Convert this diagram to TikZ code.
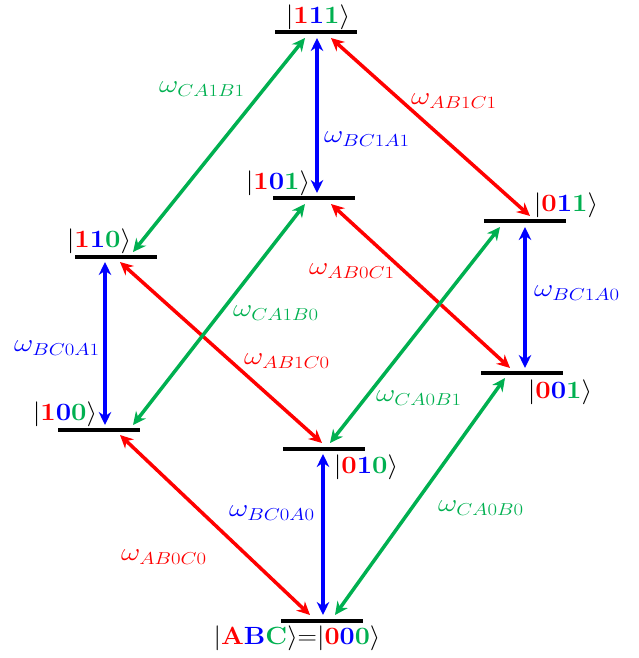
\documentclass[tikz,border=0pt]{standalone}
\usetikzlibrary{arrows.meta,calc}
\definecolor{cR}{HTML}{FF0000}
\definecolor{cB}{HTML}{0000FF}
\definecolor{cG}{HTML}{00B050}
\newcommand{\myket}[3]{\scalebox{1.1}[1]{$|\mathbf{\textcolor{cR}{#1}\textcolor{cB}{#2}\textcolor{cG}{#3}}\rangle$}}
\newcommand{\om}[1]{\scalebox{1.2}[1]{$\omega_{#1}$}}
\begin{document}
\begin{tikzpicture}[x=1pt,y=-1pt,
  lvl/.style={fill=black,inner sep=0pt,minimum width=82pt,minimum height=3.6pt},
  ketlab/.style={inner sep=0pt,font=\fontsize{23}{27}\selectfont},
  wlab/.style={inner sep=0pt,font=\fontsize{24}{28}\selectfont},
  arr/.style={line width=3.5pt,{Stealth[length=13pt,width=12.5pt]}-{Stealth[length=13pt,width=12.5pt]}}]
\useasboundingbox (0,0) rectangle (639,658);
% levels
\node[lvl] (L111) at (316,32) {};
\node[lvl] (L101) at (314,198) {};
\node[lvl] (L110) at (116,257) {};
\node[lvl] (L011) at (525,221) {};
\node[lvl] (L001) at (522,373) {};
\node[lvl] (L100) at (99,430) {};
\node[lvl] (L010) at (324,449) {};
\node[lvl] (L000) at (322,621) {};
% state labels
\node[ketlab] (K111) at (318,17) {\myket{1}{1}{1}};
\node[ketlab] (K101) at (278,183) {\myket{1}{0}{1}};
\node[ketlab] (K110) at (99,241) {\myket{1}{1}{0}};
\node[ketlab] (K011) at (566,205) {\myket{0}{1}{1}};
\node[ketlab] (K001) at (560,392) {\myket{0}{0}{1}};
\node[ketlab] (K100) at (65,414) {\myket{1}{0}{0}};
\node[ketlab] (K010) at (366,467) {\myket{0}{1}{0}};
\node[ketlab] (K000) at (297,638) {\scalebox{1.08}[1]{$|\mathbf{\textcolor{cR}{A}\textcolor{cB}{B}\textcolor{cG}{C}}\rangle{=}|\mathbf{\textcolor{cR}{0}\textcolor{cB}{0}\textcolor{cG}{0}}\rangle$}};
% transitions
\draw[arr,cB] ($(L111)+(1,6)$) -- ($(L101)+(3,-5)$);
\draw[arr,cG] ($(L111)+(-11,6)$) -- ($(L110)+(17,-5)$);
\draw[arr,cR] ($(L111)+(15,6)$) -- ($(L011)+(5,-5)$);
\draw[arr,cB] ($(L110)+(-11,5)$) -- ($(L100)+(6,-5)$);
\draw[arr,cR] ($(L110)+(4,5)$) -- ($(L010)+(-2,-6)$);
\draw[arr,cG] ($(L101)+(-9,6)$) -- ($(L100)+(34,-5)$);
\draw[arr,cR] ($(L101)+(17,6)$) -- ($(L001)+(-12,-5)$);
\draw[arr,cG] ($(L011)+(-25,6)$) -- ($(L010)+(6,-6)$);
\draw[arr,cB] ($(L011)+(0,6)$) -- ($(L001)+(3,-5)$);
\draw[arr,cB] ($(L010)+(-1,5)$) -- ($(L000)+(1,-6)$);
\draw[arr,cR] ($(L100)+(21,5)$) -- ($(L000)+(-12,-6)$);
\draw[arr,cG] ($(L001)+(-17,5)$) -- ($(L000)+(13,-6)$);
% transition labels
\node[wlab,text=cG] (w1) at (202,89) {\om{CA1B1}};
\node[wlab,text=cB] (w2) at (367,139) {\om{BC1A1}};
\node[wlab,text=cR] (w3) at (454,101) {\om{AB1C1}};
\node[wlab,text=cR] (w4) at (352,271) {\om{AB0C1}};
\node[wlab,text=cG] (w5) at (276,313) {\om{CA1B0}};
\node[wlab,text=cB] (w6) at (577,293) {\om{BC1A0}};
\node[wlab,text=cB] (w7) at (57,348) {\om{BC0A1}};
\node[wlab,text=cR] (w8) at (287,361) {\om{AB1C0}};
\node[wlab,text=cG] (w9) at (419,398) {\om{CA0B1}};
\node[wlab,text=cB] (w10) at (272,513) {\om{BC0A0}};
\node[wlab,text=cG] (w11) at (481,508) {\om{CA0B0}};
\node[wlab,text=cR] (w12) at (164,557) {\om{AB0C0}};
\end{tikzpicture}
\end{document}
